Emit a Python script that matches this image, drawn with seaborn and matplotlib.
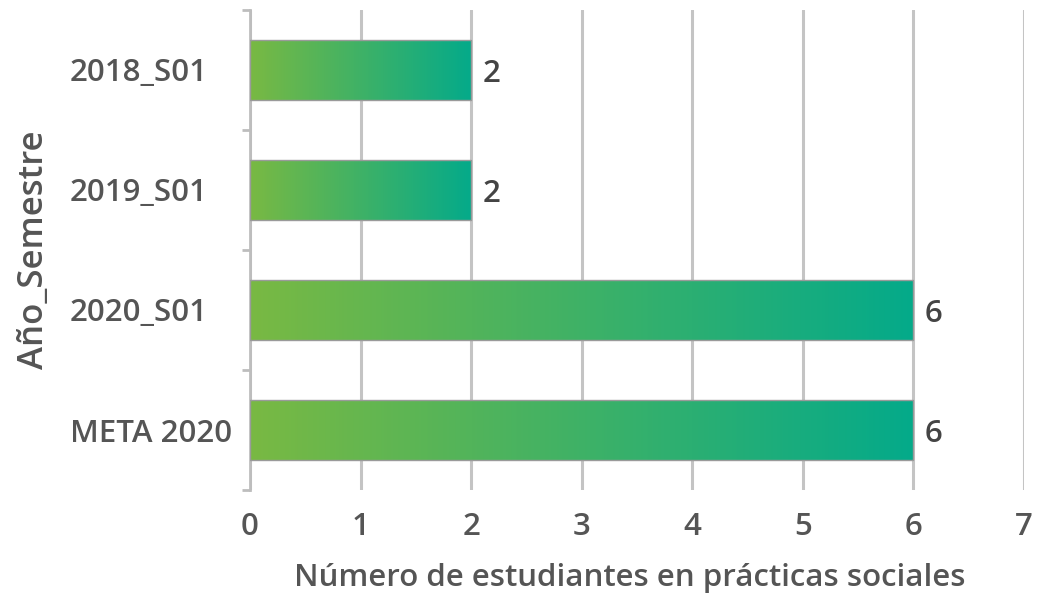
import numpy as np
import pandas as pd
import matplotlib
matplotlib.use("Agg")
import matplotlib.pyplot as plt
import seaborn as sns
from matplotlib.colors import LinearSegmentedColormap
from matplotlib.ticker import FixedLocator

# ─── DATA ────────────────────────────────────────────────────────────────────
categories = ["2018_S01", "2019_S01", "2020_S01", "META 2020"]
values = [2, 2, 6, 6]
x_ticks = [0, 1, 2, 3, 4, 5, 6, 7]

df = pd.DataFrame({"Año_Semestre": categories, "Estudiantes": values})

# ─── STYLE ───────────────────────────────────────────────────────────────────
sns.set_style("white")
plt.rcParams["font.family"] = ["Open Sans", "DejaVu Sans"]
TEXT = "#555555"
GRID = "#c4c4c4"
FS = 22.5
grad = LinearSegmentedColormap.from_list("g", ["#79b943", "#04aa8a"])

fig = plt.figure(figsize=(10.5, 6.03), dpi=100)
ax = fig.add_axes([250 / 1050, 1 - 490 / 603, 774 / 1050, 480 / 603])

sns.barplot(data=df, y="Año_Semestre", x="Estudiantes", orient="h",
            width=0.5, color="#3cb36a", ax=ax, zorder=3)

# gradient fill per bar
g = np.linspace(0, 1, 256).reshape(1, -1)
for p in ax.patches:
    x0, y0 = p.get_x(), p.get_y()
    w, h = p.get_width(), p.get_height()
    ax.imshow(g, cmap=grad, aspect="auto", extent=[x0, x0 + w, y0 + h, y0],
              zorder=3, interpolation="bilinear")
    p.set_facecolor("none")
    p.set_edgecolor("#9a9a9a")
    p.set_linewidth(1.0)
    p.set_zorder(4)

ax.set_xlim(0, 7)
ax.set_ylim(3.5, -0.5)

# vertical grid lines
ax.xaxis.set_major_locator(FixedLocator(x_ticks))
ax.grid(axis="x", color=GRID, linewidth=2.2, zorder=0)
ax.set_axisbelow(True)

# spines
for s in ["top", "right", "bottom"]:
    ax.spines[s].set_visible(False)
ax.spines["left"].set_color("#bdbdbd")
ax.spines["left"].set_linewidth(2)

# y ticks at category boundaries
ax.yaxis.set_minor_locator(FixedLocator([-0.5, 0.5, 1.5, 2.5, 3.5]))
ax.tick_params(axis="y", which="minor", length=6, width=2, color="#bdbdbd",
               left=True)
ax.tick_params(axis="y", which="major", length=0, pad=129.6,
               labelsize=FS, labelcolor=TEXT)
for lbl in ax.get_yticklabels():
    lbl.set_ha("left")
    lbl.set_fontweight("semibold")

ax.tick_params(axis="x", length=0, pad=16, labelsize=FS, labelcolor=TEXT)
for lbl in ax.get_xticklabels():
    lbl.set_fontweight("semibold")

# value labels (nudged slightly down, as in the reference)
for cont in ax.containers:
    texts = ax.bar_label(cont, labels=[str(v) for v in values], padding=8,
                         fontsize=FS, color="#444444", fontweight="semibold")
    for t in texts:
        ox, oy = t.xyann
        t.xyann = (ox, oy - 3)

ax.set_xlabel("Número de estudiantes en prácticas sociales", fontsize=FS,
              color=TEXT, fontweight="semibold")
ax.xaxis.set_label_coords((630 - 250) / 774, -(578 - 490) / 480)
ax.xaxis.label.set_va("center")

ax.set_ylabel("Año_Semestre", fontsize=25, color=TEXT, fontweight="semibold")
ax.yaxis.set_label_coords(-(250 - 34) / 774, 0.5)
ax.yaxis.label.set_va("center")

fig.savefig("out.png", dpi=100)
